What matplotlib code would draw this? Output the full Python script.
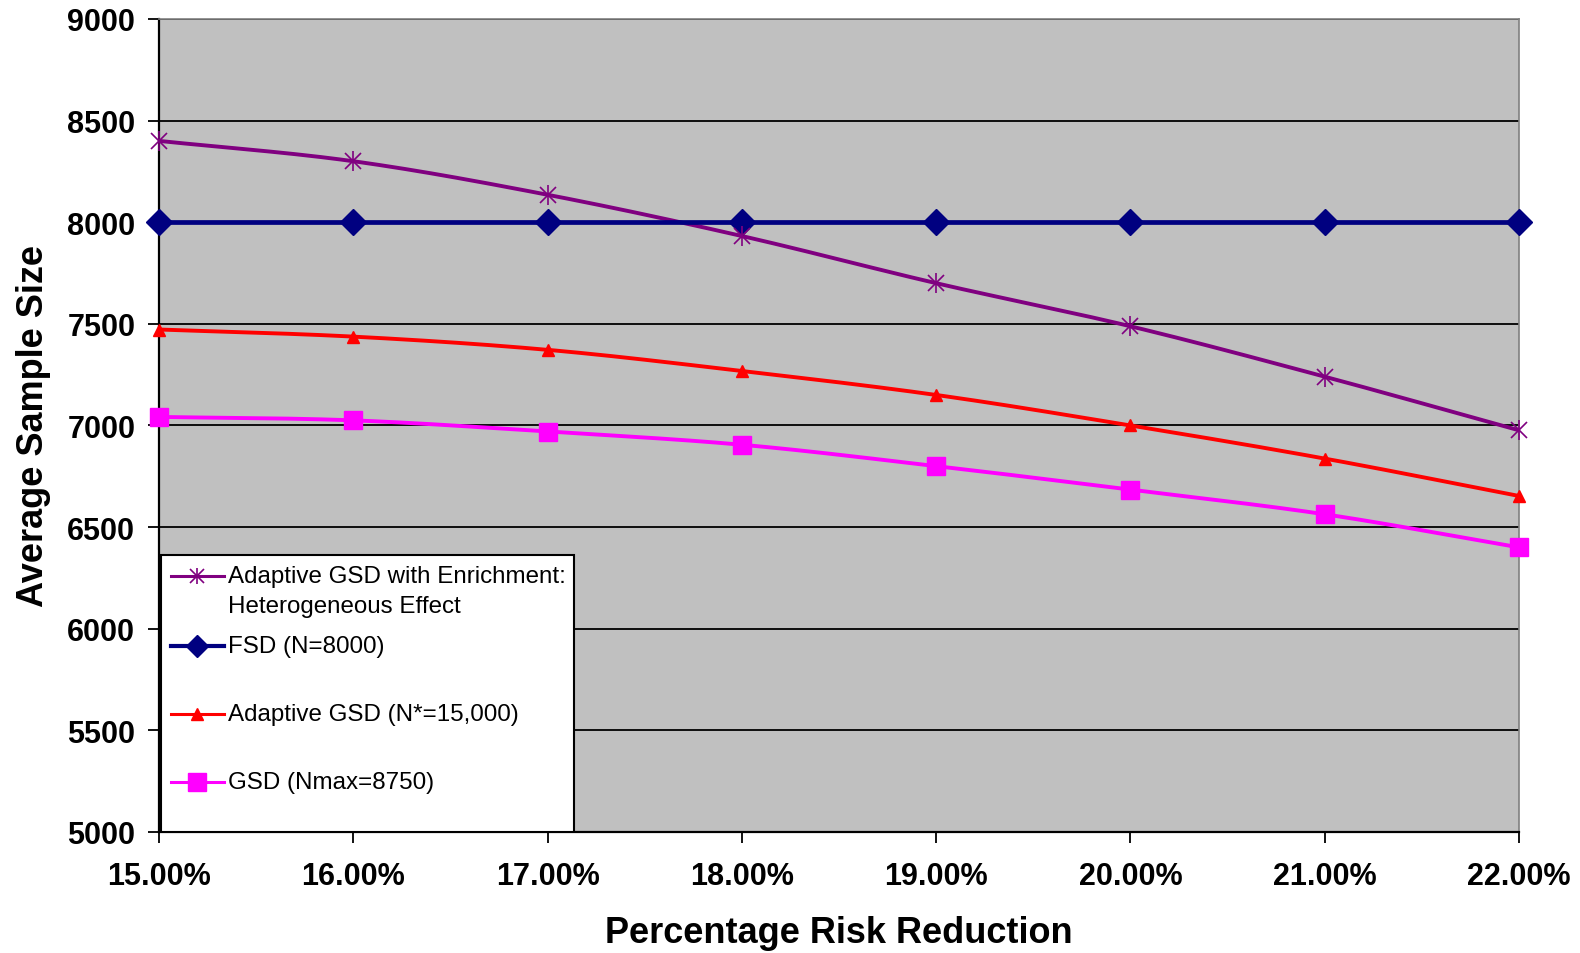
import numpy as np
import matplotlib
matplotlib.use("Agg")
import matplotlib.pyplot as plt
from matplotlib.lines import Line2D
from matplotlib.patches import Rectangle

plt.rcParams['font.family'] = ['Liberation Sans', 'DejaVu Sans']

# data
risk_reduction = [15, 16, 17, 18, 19, 20, 21, 22]
tick_labels = ['15.00%', '16.00%', '17.00%', '18.00%', '19.00%', '20.00%', '21.00%', '22.00%']
enrich = [8400, 8300, 8135, 7932, 7700, 7488, 7240, 6976]
fsd = [8000, 8000, 8000, 8000, 8000, 8000, 8000, 8000]
adaptive = [7472, 7437, 7372, 7268, 7150, 7000, 6837, 6653]
gsd = [7042, 7025, 6970, 6905, 6800, 6684, 6563, 6400]

labels = ['Adaptive GSD with Enrichment:\nHeterogeneous Effect',
          'FSD (N=8000)',
          'Adaptive GSD (N*=15,000)',
          'GSD (Nmax=8750)']


def smooth(x, y, n=30):
    # catmull-rom through the points, like Excel's smoothed line
    x = np.asarray(x, float)
    y = np.asarray(y, float)
    px = np.concatenate([[2 * x[0] - x[1]], x, [2 * x[-1] - x[-2]]])
    py = np.concatenate([[2 * y[0] - y[1]], y, [2 * y[-1] - y[-2]]])
    xs, ys = [], []
    t = np.linspace(0, 1, n, endpoint=False)
    for i in range(1, len(px) - 2):
        for p, out in ((px, xs), (py, ys)):
            p0, p1, p2, p3 = p[i - 1], p[i], p[i + 1], p[i + 2]
            out.extend(0.5 * ((2 * p1) + (-p0 + p2) * t
                              + (2 * p0 - 5 * p1 + 4 * p2 - p3) * t ** 2
                              + (-p0 + 3 * p1 - 3 * p2 + p3) * t ** 3))
    xs.append(x[-1])
    ys.append(y[-1])
    return np.array(xs), np.array(ys)


fig = plt.figure(figsize=(15.8, 9.54), dpi=100)
ax = fig.add_axes([0.1006, 0.1269, 0.8608, 0.8522])
ax.set_facecolor('#C0C0C0')

purple = '#800080'
navy = '#000080'
red = '#FF0000'
magenta = '#FF00FF'

sx, sy = smooth(risk_reduction, enrich)
ax.plot(sx, sy, color=purple, lw=2.8, zorder=3)
ax.plot(risk_reduction, enrich, ls='none', marker='x', ms=12, mew=1.2, color=purple, zorder=4, clip_on=False)
ax.plot(risk_reduction, enrich, ls='none', marker='|', ms=14, mew=1.2, color=purple, zorder=4, clip_on=False)

ax.plot(risk_reduction, fsd, color=navy, lw=3.4, marker='D', ms=13, zorder=3, clip_on=False)

sx, sy = smooth(risk_reduction, adaptive)
ax.plot(sx, sy, color=red, lw=2.8, zorder=3)
ax.plot(risk_reduction, adaptive, ls='none', marker='^', ms=9, color=red, zorder=4, clip_on=False)

sx, sy = smooth(risk_reduction, gsd)
ax.plot(sx, sy, color=magenta, lw=2.8, zorder=3)
ax.plot(risk_reduction, gsd, ls='none', marker='s', ms=13, color=magenta, zorder=4, clip_on=False)

ax.set_xlim(15, 22)
ax.set_ylim(5000, 9000)
ax.set_xticks(risk_reduction)
ax.set_xticklabels(tick_labels)
ax.set_yticks(range(5000, 9001, 500))
ax.yaxis.grid(True, color='black', lw=1.3)
ax.set_axisbelow(True)

for side in ('top', 'right'):
    ax.spines[side].set_color('#808080')
    ax.spines[side].set_linewidth(1.2)
for side in ('left', 'bottom'):
    ax.spines[side].set_color('black')
    ax.spines[side].set_linewidth(1.6)

ax.tick_params(axis='both', direction='out', length=8, width=1.3, labelsize=22)
ax.tick_params(axis='x', pad=13)
ax.tick_params(axis='y', pad=9)
for lbl in ax.get_xticklabels() + ax.get_yticklabels():
    lbl.set_fontweight('bold')
ax.set_xlabel('Percentage Risk Reduction', fontsize=26, fontweight='bold', labelpad=17)
ax.set_ylabel('Average Sample Size', fontsize=26, fontweight='bold', labelpad=12)

# legend box drawn by hand, sitting on the bottom-left of the plot area
tr = ax.transAxes
ax.add_patch(Rectangle((0.0015, 0.0), 0.3036, 0.3410, transform=tr, facecolor='white',
                       edgecolor='black', lw=1.5, zorder=6))
ys = [0.3145, 0.2290, 0.1455, 0.0610]
hx = [0.0088, 0.0478]
mx = 0.0283
styles = [(purple, 2.2, None), (navy, 3.0, 'D'), (red, 2.2, '^'), (magenta, 2.2, 's')]
sizes = {'D': 11, '^': 9, 's': 13}
for (col, lw, mk), yy, lab in zip(styles, ys, labels):
    ax.add_line(Line2D(hx, [yy, yy], color=col, lw=lw, transform=tr, zorder=7))
    if mk is None:
        ax.add_line(Line2D([mx], [yy], marker='x', ms=10, mew=1.2, color=col, transform=tr, zorder=8))
        ax.add_line(Line2D([mx], [yy], marker='|', ms=12, mew=1.2, color=col, transform=tr, zorder=8))
    else:
        ax.add_line(Line2D([mx], [yy], marker=mk, ms=sizes[mk], color=col, transform=tr, zorder=8))
    # multi-line labels: first line level with the handle
    for k, part in enumerate(lab.split('\n')):
        ax.text(0.0508, yy - k * 0.0365, part, transform=tr, fontsize=17.4,
                va='center', ha='left', zorder=9)

fig.savefig('out.png', dpi=100)
